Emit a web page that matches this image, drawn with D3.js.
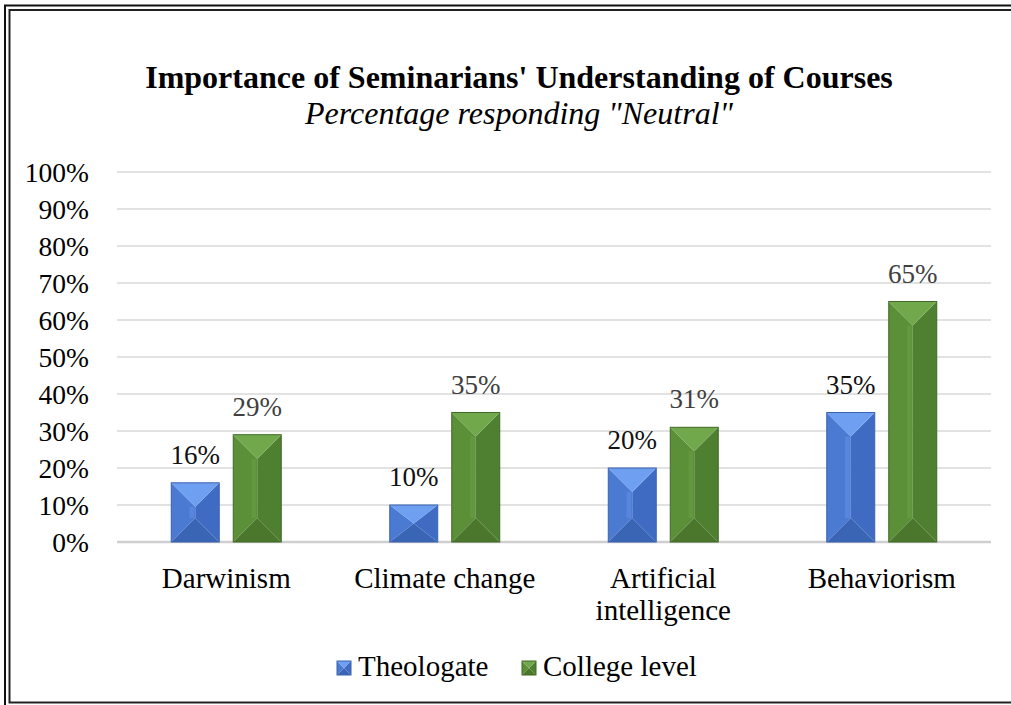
<!DOCTYPE html>
<html>
<head>
<meta charset="utf-8">
<script src="https://cdn.jsdelivr.net/npm/d3@7"></script>
<style>
  html, body { margin: 0; padding: 0; background: #fff; }
  svg { display: block; }
</style>
</head>
<body>
<script>
const categories = [["Darwinism"], ["Climate change"], ["Artificial", "intelligence"], ["Behaviorism"]];
const seriesNames = ["Theologate", "College level"];
const theologate = [16, 10, 20, 35];
const collegeLevel = [29, 35, 31, 65];
const yTicks = [0, 10, 20, 30, 40, 50, 60, 70, 80, 90, 100];
const titleText = "Importance of Seminarians' Understanding of Courses";
const subtitleText = "Percentage responding \"Neutral\"";

const W = 1011, H = 705;
const svg = d3.select("body").append("svg").attr("width", W).attr("height", H);
const font = "'Liberation Serif', 'Times New Roman', serif";

// frame
svg.append("rect").attr("x", 5).attr("y", 5.5).attr("width", W + 20).attr("height", H + 20)
  .attr("fill", "none").attr("stroke", "#111").attr("stroke-width", 2);
svg.append("rect").attr("x", 9.5).attr("y", 10).attr("width", W + 20).attr("height", 692.5)
  .attr("fill", "none").attr("stroke", "#222").attr("stroke-width", 2);

const plot = { left: 117, right: 991, top: 172, bottom: 542 };
const x0 = d3.scaleBand().domain(d3.range(categories.length)).range([plot.left, plot.right]);
const y = d3.scaleLinear().domain([0, 100]).range([plot.bottom, plot.top]);

// gridlines
svg.append("g").selectAll("line").data(yTicks).join("line")
  .attr("x1", plot.left).attr("x2", plot.right)
  .attr("y1", d => y(d)).attr("y2", d => y(d))
  .attr("stroke", d => d === 0 ? "#cfcfcf" : "#d9d9d9")
  .attr("stroke-width", d => d === 0 ? 2.5 : 1.5);

// y axis labels
svg.append("g").selectAll("text").data(yTicks).join("text")
  .attr("x", 89).attr("y", d => y(d)).attr("dy", "0.35em")
  .attr("text-anchor", "end").attr("font-family", font).attr("font-size", 27.5)
  .attr("fill", "#000").text(d => d + "%");

// bars
const barW = 48, gap = 14;
const palettes = [
  { top: "#6f9ff0", left: "#4b7ad3", right: "#3f6cc2", bottom: "#3a64b4", stroke: "#3a63b0" },
  { top: "#72a84c", left: "#5b8f38", right: "#4f7f30", bottom: "#4a772c", stroke: "#3f6a25" }
];
const series = [theologate, collegeLevel];

function bevel(g, xa, xb, ya, yb, p) {
  const w = xb - xa, h = yb - ya, xc = (xa + xb) / 2;
  const b = Math.min(w / 2, h / 2);
  const polys = [
    { pts: [[xa, ya], [xc, ya + b], [xc, yb - b], [xa, yb]], fill: p.left },
    { pts: [[xb, ya], [xc, ya + b], [xc, yb - b], [xb, yb]], fill: p.right },
    { pts: [[xa, yb], [xb, yb], [xc, yb - b]], fill: p.bottom },
    { pts: [[xa, ya], [xb, ya], [xc, ya + b]], fill: p.top }
  ];
  polys.forEach(q => g.append("polygon").attr("points", q.pts.map(d => d.join(",")).join(" ")).attr("fill", q.fill));
  g.append("rect").attr("x", xc - w * 0.12).attr("y", ya + b).attr("width", w * 0.1).attr("height", Math.max(0, h - 2 * b))
    .attr("fill", p.top).attr("opacity", 0.35);
  g.append("rect").attr("x", xa).attr("y", ya).attr("width", w).attr("height", h)
    .attr("fill", "none").attr("stroke", p.stroke).attr("stroke-width", 1);
}

const labelColors = ["#111", "#404040"];
series.forEach((vals, si) => {
  const g = svg.append("g");
  vals.forEach((v, ci) => {
    const center = x0(ci) + x0.bandwidth() / 2;
    const xa = si === 0 ? center - gap / 2 - barW : center + gap / 2;
    bevel(g, xa, xa + barW, y(v), y(0), palettes[si]);
    g.append("text").attr("x", xa + barW / 2).attr("y", y(v) - 19)
      .attr("text-anchor", "middle").attr("font-family", font).attr("font-size", 27)
      .attr("fill", labelColors[si]).text(v + "%");
  });
});

// category labels
svg.append("g").selectAll("text").data(categories).join("text")
  .attr("x", (d, i) => x0(i) + x0.bandwidth() / 2).attr("y", 588)
  .attr("text-anchor", "middle").attr("font-family", font).attr("font-size", 29).attr("fill", "#000")
  .each(function(d) {
    d3.select(this).selectAll("tspan").data(d).join("tspan")
      .attr("x", d3.select(this).attr("x")).attr("dy", (t, j) => j === 0 ? 0 : 32).text(t => t);
  });

// title
svg.append("text").attr("x", 519).attr("y", 88).attr("text-anchor", "middle")
  .attr("font-family", font).attr("font-size", 32).attr("font-weight", "bold").text(titleText);
svg.append("text").attr("x", 519).attr("y", 124).attr("text-anchor", "middle")
  .attr("font-family", font).attr("font-size", 32).attr("font-style", "italic").text(subtitleText);

// legend
const legendX = [337, 522];
seriesNames.forEach((name, i) => {
  const g = svg.append("g");
  bevel(g, legendX[i], legendX[i] + 14, 661, 675, palettes[i]);
  g.append("text").attr("x", legendX[i] + 21).attr("y", 676).attr("font-family", font)
    .attr("font-size", 29).attr("fill", "#000").text(name);
});
</script>
</body>
</html>
